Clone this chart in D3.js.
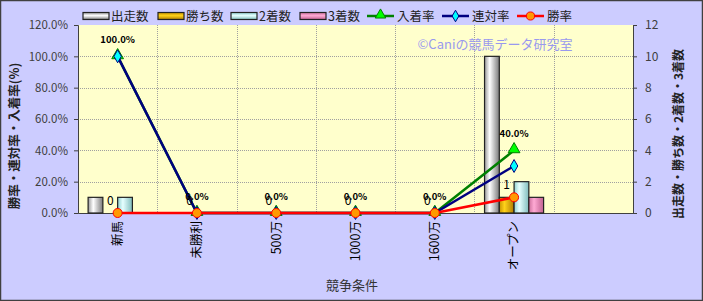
<!DOCTYPE html>
<html>
<head>
<meta charset="utf-8">
<script src="https://cdn.jsdelivr.net/npm/d3@7"></script>
<style>
  body { margin: 0; background: #fff; }
  svg { display: block; }
  text { font-family: 'Noto Sans CJK JP', 'Noto Sans', sans-serif; }
</style>
</head>
<body>
<svg id="chart" width="703" height="301"></svg>
<script>
// categories (last slot is empty, as in the original)
const categories = ['新馬', '未勝利', '500万', '1000万', '1600万', 'オープン', '']

// counts
const starts = [1, 0, 0, 0, 0, 10]
const wins = [0, 0, 0, 0, 0, 1]
const seconds = [1, 0, 0, 0, 0, 2]
const thirds = [0, 0, 0, 0, 0, 1]

// rates (%)
const placeRate = [100, 0, 0, 0, 0, 40]
const rentaiRate = [100, 0, 0, 0, 0, 30]
const winRate = [0, 0, 0, 0, 0, 10]

const leftTicks = [0, 20, 40, 60, 80, 100, 120]
const rightTicks = [0, 2, 4, 6, 8, 10, 12]

const W = 703
const H = 301
const plot = { left: 78, right: 633, top: 25, bottom: 213 }

const svg = d3.select('#chart')

const barSeries = [
  { name: '出走数', values: starts, grad: ['#9a9a9a', '#ffffff', '#7a7a7a'] },
  { name: '勝ち数', values: wins, grad: ['#c89400', '#ffd21a', '#b07c00'] },
  { name: '2着数', values: seconds, grad: ['#8fd0d0', '#e6ffff', '#7fbcbc'] },
  { name: '3着数', values: thirds, grad: ['#cc6f9c', '#ffaad4', '#c06090'] },
]

const lineSeries = [
  { name: '入着率', values: placeRate, color: '#008000', fill: '#00ff00', marker: 'triangle' },
  { name: '連対率', values: rentaiRate, color: '#000080', fill: '#00ffff', marker: 'diamond' },
  { name: '勝率', values: winRate, color: '#ff0000', fill: '#ff9900', marker: 'circle' },
]

// gradients
const defs = svg.append('defs')
barSeries.forEach((s, i) => {
  const g = defs.append('linearGradient').attr('id', 'bar' + i)
    .attr('x1', 0).attr('x2', 1).attr('y1', 0).attr('y2', 0)
  g.append('stop').attr('offset', '0%').attr('stop-color', s.grad[0])
  g.append('stop').attr('offset', '35%').attr('stop-color', s.grad[1])
  g.append('stop').attr('offset', '100%').attr('stop-color', s.grad[2])
  const lg = defs.append('linearGradient').attr('id', 'leg' + i)
    .attr('x1', 0).attr('x2', 0).attr('y1', 0).attr('y2', 1)
  lg.append('stop').attr('offset', '0%').attr('stop-color', s.grad[0])
  lg.append('stop').attr('offset', '45%').attr('stop-color', s.grad[1])
  lg.append('stop').attr('offset', '100%').attr('stop-color', s.grad[2])
})

// background
svg.append('rect')
  .attr('x', 0.5).attr('y', 0.5)
  .attr('width', W - 1).attr('height', H - 1)
  .attr('fill', '#ccccff')
  .attr('stroke', '#404040')
  .attr('stroke-width', 1.5)

svg.append('rect')
  .attr('x', plot.left).attr('y', plot.top)
  .attr('width', plot.right - plot.left).attr('height', plot.bottom - plot.top)
  .attr('fill', '#ffffcc')

// scales
const x = d3.scaleBand()
  .domain(d3.range(categories.length))
  .range([plot.left, plot.right])
  .padding(0)

const yL = d3.scaleLinear().domain([0, 120]).range([plot.bottom, plot.top])
const yR = d3.scaleLinear().domain([0, 12]).range([plot.bottom, plot.top])

const groupW = x.bandwidth() * 0.745
const inner = d3.scaleBand()
  .domain(d3.range(barSeries.length))
  .range([-groupW / 2, groupW / 2])
  .padding(0)

const cx = (i) => x(i) + x.bandwidth() / 2

// grid
svg.append('g')
  .selectAll('line')
  .data(leftTicks.slice(1, -1))
  .join('line')
  .attr('x1', plot.left).attr('x2', plot.right)
  .attr('y1', (d) => Math.round(yL(d)) + 0.5).attr('y2', (d) => Math.round(yL(d)) + 0.5)
  .attr('stroke', '#a0a0a0')
  .attr('stroke-dasharray', '1,1')

svg.append('g')
  .selectAll('line')
  .data(d3.range(1, categories.length))
  .join('line')
  .attr('x1', (d) => Math.round(x(d)) + 0.5).attr('x2', (d) => Math.round(x(d)) + 0.5)
  .attr('y1', plot.top).attr('y2', plot.bottom)
  .attr('stroke', '#a0a0a0')
  .attr('stroke-dasharray', '1,1')

// watermark
svg.append('text')
  .attr('x', 495).attr('y', 49)
  .attr('text-anchor', 'middle')
  .attr('font-size', 13)
  .attr('fill', '#9999ee')
  .text('©Caniの競馬データ研究室')

// axes
const axisL = svg.append('g')
  .attr('transform', `translate(${plot.left},0)`)
  .call(d3.axisLeft(yL).tickValues(leftTicks).tickSize(4).tickFormat((d) => d.toFixed(1) + '%'))
const axisR = svg.append('g')
  .attr('transform', `translate(${plot.right},0)`)
  .call(d3.axisRight(yR).tickValues(rightTicks).tickSize(4).tickPadding(8))
const axisB = svg.append('g')
  .attr('transform', `translate(0,${plot.bottom})`)
  .call(d3.axisBottom(x).tickSize(0).tickFormat((d) => categories[d]))

;[axisL, axisR, axisB].forEach((a) => {
  a.select('.domain').attr('stroke', '#404040')
  a.selectAll('.tick line').attr('stroke', '#404040')
})
axisL.selectAll('text')
  .attr('font-size', 11.5)
  .attr('fill', '#404040')
  .attr('x', -10)
axisR.selectAll('text')
  .attr('font-size', 12)
  .attr('fill', '#404040')
axisB.selectAll('text')
  .attr('font-size', 12.5)
  .attr('fill', '#000')
  .attr('transform', 'rotate(-90)')
  .attr('text-anchor', 'end')
  .attr('dy', '0.35em')
  .attr('x', -8)
  .attr('y', 0)

// axis titles
svg.append('text')
  .attr('transform', 'translate(19,136) rotate(-90)')
  .attr('text-anchor', 'middle')
  .attr('font-size', 12.5)
  .attr('font-weight', 'bold')
  .attr('fill', '#222')
  .text('勝率・連対率・入着率(%)')

svg.append('text')
  .attr('transform', 'translate(683,134) rotate(-90)')
  .attr('text-anchor', 'middle')
  .attr('font-size', 12)
  .attr('font-weight', 'bold')
  .attr('fill', '#222')
  .text('出走数・勝ち数・2着数・3着数')

svg.append('text')
  .attr('x', 352).attr('y', 290)
  .attr('text-anchor', 'middle')
  .attr('font-size', 13)
  .attr('fill', '#333')
  .text('競争条件')

// bars
barSeries.forEach((s, si) => {
  svg.append('g')
    .selectAll('rect')
    .data(s.values)
    .join('rect')
    .attr('x', (d, i) => cx(i) + inner(si))
    .attr('y', (d) => yR(d))
    .attr('width', inner.bandwidth())
    .attr('height', (d) => yR(0) - yR(d))
    .attr('fill', `url(#bar${si})`)
    .attr('stroke', (d) => (d > 0 ? '#222' : 'none'))
    .attr('stroke-width', 1.2)
})

// lines
const symbolFor = { triangle: d3.symbolTriangle, diamond: d3.symbolDiamond, circle: d3.symbolCircle }
const sizeFor = { triangle: 60, diamond: 48, circle: 64 }
const line = d3.line().x((d, i) => cx(i)).y((d) => yL(d))

lineSeries.forEach((s) => {
  svg.append('path')
    .datum(s.values)
    .attr('d', line)
    .attr('fill', 'none')
    .attr('stroke', s.color)
    .attr('stroke-width', 2.5)
  svg.append('g')
    .selectAll('path')
    .data(s.values)
    .join('path')
    .attr('transform', (d, i) => `translate(${cx(i)},${yL(d) + (s.marker === 'triangle' ? -1 : 0)})`)
    .attr('d', d3.symbol().type(symbolFor[s.marker]).size(sizeFor[s.marker]))
    .attr('fill', s.fill)
    .attr('stroke', s.color)
    .attr('stroke-width', 1)
})

// data labels: 勝ち数 counts and 入着率 rates
svg.append('g')
  .selectAll('text')
  .data(wins)
  .join('text')
  .attr('x', (d, i) => cx(i) + inner(1) + inner.bandwidth() / 2)
  .attr('y', (d) => yR(d) - 8)
  .attr('text-anchor', 'middle')
  .attr('font-size', 12)
  .attr('fill', '#000')
  .text((d) => d)

svg.append('g')
  .selectAll('text')
  .data(placeRate)
  .join('text')
  .attr('x', (d, i) => cx(i))
  .attr('y', (d) => yL(d) - 13)
  .attr('text-anchor', 'middle')
  .attr('font-family', "'Liberation Sans', Arial, sans-serif")
  .attr('font-weight', 'bold')
  .attr('font-size', 9.5)
  .attr('fill', '#000')
  .text((d) => d.toFixed(1) + '%')

// legend
const legend = svg.append('g').attr('font-size', 12.5)
const barLegendX = [83, 158, 231, 300]
barSeries.forEach((s, i) => {
  const g = legend.append('g').attr('transform', `translate(${barLegendX[i]},16)`)
  g.append('rect')
    .attr('x', 0).attr('y', -3.5)
    .attr('width', 26).attr('height', 7)
    .attr('fill', `url(#leg${i})`)
    .attr('stroke', '#222')
    .attr('stroke-width', 1.2)
  g.append('text')
    .attr('x', 28).attr('y', 0)
    .attr('dy', '0.36em')
    .attr('fill', '#222')
    .text(s.name)
})
const lineLegendX = [367, 442, 517]
lineSeries.forEach((s, i) => {
  const g = legend.append('g').attr('transform', `translate(${lineLegendX[i]},16)`)
  g.append('line')
    .attr('x1', 0).attr('x2', 27)
    .attr('stroke', s.color)
    .attr('stroke-width', 2.5)
  g.append('path')
    .attr('transform', `translate(13.5,${s.marker === 'triangle' ? -1 : 0})`)
    .attr('d', d3.symbol().type(symbolFor[s.marker]).size(sizeFor[s.marker] * 0.8))
    .attr('fill', s.fill)
    .attr('stroke', s.color)
  g.append('text')
    .attr('x', 30).attr('y', 0)
    .attr('dy', '0.36em')
    .attr('fill', '#222')
    .text(s.name)
})
</script>
</body>
</html>
